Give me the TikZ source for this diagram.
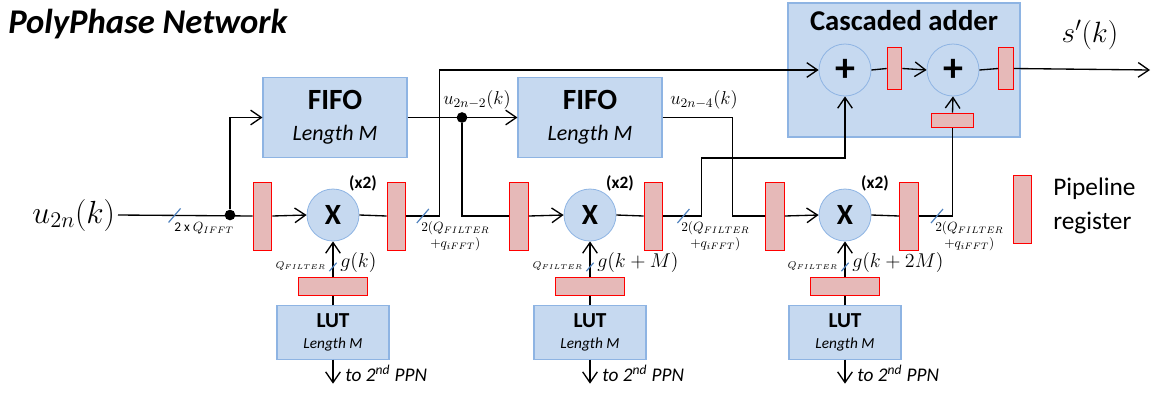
\RequirePackage{fix-cm}
\documentclass[tikz,border=0pt]{standalone}
\usepackage{fontspec}
\setmainfont{Carlito}
\usetikzlibrary{arrows.meta,positioning,calc}
\definecolor{boxfill}{HTML}{C6D9F0}
\definecolor{boxedge}{HTML}{8EB4E3}
\definecolor{regfill}{HTML}{E6B9B8}
\definecolor{regedge}{HTML}{FF0000}
\definecolor{busblue}{HTML}{4F81BD}
\tikzset{blk/.style={draw=boxedge,line width=0.8pt,fill=boxfill,align=center,inner sep=0pt},
  fifo/.style={blk,minimum width=108pt,minimum height=60pt,font=\fontsize{16.5}{21}\selectfont},
  lut/.style={blk,minimum width=84pt,minimum height=40pt,font=\fontsize{11.5}{15}\selectfont},
  op/.style={circle,draw=boxedge,line width=0.6pt,fill=boxfill,minimum size=39pt,inner sep=0pt,font=\fontsize{22}{26}\selectfont\bfseries},
  addop/.style={op,font=\fontsize{30}{32}\selectfont\bfseries},
  regv/.style={draw=regedge,line width=0.7pt,fill=regfill,minimum width=14pt,minimum height=51pt,inner sep=0pt},
  regh/.style={regv,minimum width=52pt,minimum height=13pt},
  regs/.style={regv,minimum width=11pt,minimum height=31pt},
  regsh/.style={regv,minimum width=31pt,minimum height=11pt},
  wire/.style={line width=1pt},
  flow/.style={wire,-{Straight Barb[length=8pt,width=11pt]}},
  junc/.style={circle,fill=black,inner sep=0pt,minimum size=8pt},
  tag/.style={font=\fontsize{13}{15}\selectfont\bfseries,inner sep=0pt},
  qlab/.style={font=\fontsize{10}{12}\selectfont,align=center,inner sep=0pt,anchor=north west},
  qsmall/.style={font=\fontsize{7.5}{9}\selectfont,inner sep=0pt,anchor=east},
  glab/.style={font=\fontsize{15}{18}\selectfont,inner sep=0pt,anchor=west},
  ulab/.style={font=\fontsize{14}{16}\selectfont,inner sep=0pt},
  tolab/.style={font=\fontsize{14.5}{17}\selectfont\itshape,inner sep=0pt,anchor=west},
  pics/bus/.style={code={\draw[-,draw=busblue,line width=0.9pt] (-6,7) -- (6,-7);}}}

\begin{document}
\begin{tikzpicture}[x=0.75pt,y=-0.75pt]
\useasboundingbox (0,0) rectangle (1157,394);
\node[anchor=base west,inner sep=0pt,font=\fontsize{26}{30}\selectfont\bfseries\itshape] (title) at (8,33) {PolyPhase Network};
% cascaded adder
\node[blk,minimum width=174pt,minimum height=100.5pt] (cadd) at (904,70) {};
\node[anchor=base,inner sep=0pt,font=\fontsize{21.5}{24}\selectfont\bfseries] (caddt) at (904,30) {Cascaded adder};
\node[addop] (add1) at (845,70) {+};
\node[addop] (add2) at (953,70) {+};
\node[regs] (areg1) at (894.5,68.5) {};
\node[regs] (areg2) at (1006,68.5) {};
\node[regsh] (areg3) at (952.5,120.5) {};
\coordinate (sout) at (1150,70);
\node[inner sep=0pt,font=\fontsize{22}{26}\selectfont] (sk) at (1090,35) {$s'(k)$};
% fifos
\node[fifo] (fifo1) at (335,117.5) {{\fontsize{22}{26}\selectfont\bfseries FIFO}\\[2pt]{\itshape Length M}};
\node[fifo] (fifo2) at (590,117.5) {{\fontsize{22}{26}\selectfont\bfseries FIFO}\\[2pt]{\itshape Length M}};
\node[ulab] (u2) at (477,100) {$u_{2n-2}(k)$};
\node[ulab] (u4) at (704,100) {$u_{2n-4}(k)$};
% multipliers
\node[op] (mul1) at (333,215) {X};
\node[op] (mul2) at (590,215) {X};
\node[op] (mul3) at (845,215) {X};
\foreach \m in {1,2,3}{\node[tag] (t\m) at ($(mul\m)+(30,-32)$) {(x2)};}
\node[regv] (regA1) at (262.5,216) {};
\node[regv] (regB1) at (396.5,216) {};
\node[regv] (regA2) at (519,216) {};
\node[regv] (regB2) at (653.5,216) {};
\node[regv] (regA3) at (775,216) {};
\node[regv] (regB3) at (909,216) {};
% luts
\foreach \m in {1,2,3}{
  \node[regh] (lreg\m) at ($(mul\m)+(0,71.5)$) {};
  \node[lut] (lut\m) at ($(mul\m)+(0,117.5)$) {{\fontsize{16}{18}\selectfont\bfseries LUT}\\[1pt]{\itshape Length M}};
  \coordinate[below=18pt of lut\m] (o\m);
  \draw[wire] (lut\m.north) -- (lreg\m.south);
  \draw[flow] (lreg\m.north) -- pic[pos=.29,scale=.6]{bus} (mul\m.south);
  \draw[flow] (lut\m.south) -- (o\m);
  \node[qsmall] (qf\m) at ($(mul\m)+(-7,51)$) {$Q_{FILTER}$};
  \node[tolab] (to\m) at ($(mul\m)+(12,158)$) {to 2\textsuperscript{nd} PPN};
}
\node[glab] (g1) at ($(mul1)+(7,47)$) {$g(k)$};
\node[glab] (g2) at ($(mul2)+(7,47)$) {$g(k+M)$};
\node[glab] (g3) at ($(mul3)+(7,47)$) {$g(k+2M)$};
% input
\node[anchor=east,inner sep=2pt,font=\fontsize{24}{28}\selectfont] (uin) at (118,215) {$u_{2n}(k)$};
\node[junc] (jd1) at (230,215) {};
\node[junc] (jd2) at (462,117.5) {};
\draw[wire] (uin.east) -- pic[pos=.42]{bus} (regA1.west);
\node[qlab,anchor=north] (qin) at (204,222) {2 x $Q_{IFFT}$};
\draw[flow] (jd1) |- (fifo1.west);
\draw[flow] (fifo1.east) -- (fifo2.west);
% row 1
\draw[flow] (regA1.east) -- (mul1.west);
\draw[wire] (mul1.east) -- (regB1.west);
\draw[flow] (regB1.east) -- pic[pos=.5]{bus} ++(33,0) |- (add1.west);
\node[qlab] (q1) at (421,221) {$2(Q_{FILTER}$\\$+q_{iFFT})$};
% row 2
\draw[wire] (jd2) |- (regA2.west);
\draw[flow] (regA2.east) -- (mul2.west);
\draw[wire] (mul2.east) -- (regB2.west);
\draw[flow] (regB2.east) -- pic[pos=.53]{bus} ++(38,0) |- (add1.south |- fifo2.south) -- (add1.south);
\node[qlab] (q2) at (681,221) {$2(Q_{FILTER}$\\$+q_{iFFT})$};
% row 3
\draw[wire] (fifo2.east) -- ++(70,0) |- (regA3.west);
\draw[flow] (regA3.east) -- (mul3.west);
\draw[wire] (mul3.east) -- (regB3.west);
\draw[wire] (regB3.east) -| pic[pos=.27]{bus} (areg3.south);
\draw[flow] (areg3.north) -- (add2.south);
\node[qlab] (q3) at (935,221) {$2(Q_{FILTER}$\\$+q_{iFFT})$};
% adder chain
\draw[wire] (add1.east) -- (areg1.west);
\draw[flow] (areg1.east) -- (add2.west);
\draw[wire] (add2.east) -- (areg2.west);
\draw[flow] (areg2.east) -- (sout);
% legend
\node[regv] (legreg) at (1022.5,209) {};
\node[anchor=west,align=left,inner sep=0pt,font=\fontsize{19}{25}\selectfont] (legt) at (1053,206) {Pipeline\\register};
\end{tikzpicture}
\end{document}
